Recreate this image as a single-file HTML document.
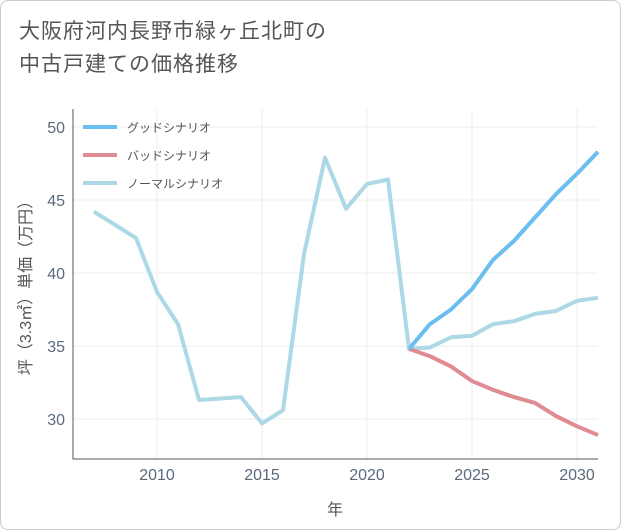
<!DOCTYPE html>
<html><head><meta charset="utf-8"><style>
body{margin:0;background:#fff;}
#wrap{position:relative;width:619px;height:528px;border:1px solid #ccc;border-radius:8px;background:#fff;overflow:hidden;font-family:"Liberation Sans","Noto Sans CJK JP",sans-serif;}
#title{position:absolute;left:18px;top:14px;font-size:21px;line-height:33px;color:#555;letter-spacing:1px;}
</style></head><body>
<div id="wrap">
<div id="title">大阪府河内長野市緑ヶ丘北町の<br>中古戸建ての価格推移</div>
<svg id="chart" width="621" height="530" style="position:absolute;left:0;top:0"></svg>
</div>
<script>
const normalYears=[2007,2009,2010,2011,2012,2014,2015,2016,2017,2018,2019,2020,2021,2022,2023,2024,2025,2026,2027,2028,2029,2030,2031];
const normalVals=[44.2,42.4,38.7,36.5,31.3,31.5,29.7,30.6,41.3,47.9,44.4,46.1,46.4,34.8,34.9,35.6,35.7,36.5,36.7,37.2,37.4,38.1,38.3];
const futureYears=[2022,2023,2024,2025,2026,2027,2028,2029,2030,2031];
const goodVals=[34.8,36.5,37.5,38.9,40.9,42.2,43.8,45.4,46.8,48.3];
const badVals=[34.8,34.3,33.6,32.6,32.0,31.5,31.1,30.2,29.5,28.9];
const xTicks=[2010,2015,2020,2025,2030];
const yTicks=[30,35,40,45,50];
const svg=document.getElementById('chart');const NS='http://www.w3.org/2000/svg';
const L=72,R=597,T=108,B=458;
const x=v=>156+(v-2010)*21;
const y=v=>345-(v-35)*14.6;
function mk(t,a){const e=document.createElementNS(NS,t);for(const k in a)e.setAttribute(k,a[k]);svg.appendChild(e);return e;}
xTicks.forEach(v=>{const g=mk('line',{x1:x(v),x2:x(v),y1:T,y2:B,stroke:'#eee'});


const t=mk('text',{x:x(v),y:B+21,'text-anchor':'middle','font-size':16,fill:'#5a6a7a'});t.textContent=v;

});
yTicks.forEach(v=>{const g=mk('line',{x1:L,x2:R,y1:y(v),y2:y(v),stroke:'#eee'});


const t=mk('text',{x:L-8,y:y(v)+6,'text-anchor':'end','font-size':16,fill:'#5a6a7a'});t.textContent=v;

});
const ax=mk('path',{d:`M${L} ${T}V${B}H${R}`,fill:'none',stroke:'#555','stroke-width':1});


function line(xs,vs,c,n){const p=mk('polyline',{points:xs.map((v,i)=>x(v)+','+y(vs[i])).join(' '),fill:'none',stroke:c,'stroke-width':4,'stroke-linejoin':'round'});

}
line(normalYears,normalVals,'#add8e6','normal-scenario-line');
line(futureYears,badVals,'#e08a92','bad-scenario-line');
line(futureYears,goodVals,'#6bbef0','good-scenario-line');
const leg=[['グッドシナリオ','#6bbef0',126],['バッドシナリオ','#e08a92',154],['ノーマルシナリオ','#add8e6',182]];
leg.forEach(l=>{const s=mk('line',{x1:82,x2:116,y1:l[2],y2:l[2],stroke:l[1],'stroke-width':4});


const t=mk('text',{x:126,y:l[2]+5,'font-size':12,fill:'#555'});t.textContent=l[0];

});
const xt=mk('text',{x:334,y:514,'text-anchor':'middle','font-size':16,fill:'#555'});xt.textContent='年';


const yt=mk('text',{x:30,y:283,'text-anchor':'middle','font-size':16,fill:'#555',transform:'rotate(-90 30 283)'});yt.textContent='坪（3.3㎡）単価（万円）';


</script>
</body></html>
